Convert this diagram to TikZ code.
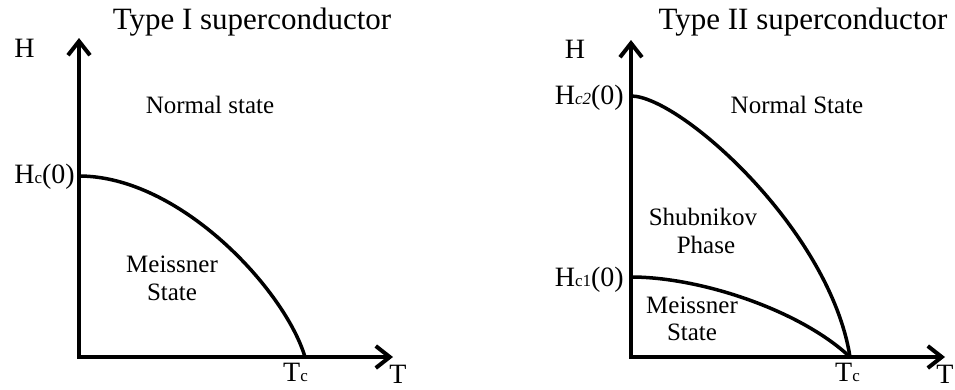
\documentclass[tikz,border=0pt]{standalone}
\usepackage{fontspec}
\setmainfont{Liberation Serif}
\usetikzlibrary{arrows.meta}
\newcommand{\subsm}[1]{{\fontsize{17}{17}\selectfont #1}}
\tikzset{
  axisline/.style={line width=4pt, line join=miter, {Straight Barb[length=14pt,width=22pt]}-{Straight Barb[length=14pt,width=22pt]}},
  phaseline/.style={line width=3.5pt},
  titletext/.style={font=\fontsize{31}{31}\selectfont, anchor=base, inner sep=0pt},
  lbl/.style={font=\fontsize{25}{25}\selectfont, anchor=base, inner sep=0pt},
  axlbl/.style={font=\fontsize{28}{28}\selectfont, anchor=base, inner sep=0pt},
}
\begin{document}
\begin{tikzpicture}[x=1pt,y=-1pt]
\useasboundingbox (0,0) rectangle (955,389);
% ---------- Type I ----------
\coordinate (Ltop) at (79,38);
\coordinate (Lo) at (79,357);
\coordinate (Lright) at (393,357);
\coordinate (LHc) at (79,176);
\coordinate (LTc) at (305,357);
\draw[axisline] (Ltop) -- (Lo) -- (Lright);
\draw[phaseline] (LHc) .. controls (180,176) and (285,290) .. (LTc);
\node[titletext] (title1) at (252,29) {Type I superconductor};
\node[axlbl] (H1) at (24.5,57) {H};
\node[lbl] (normal1) at (210,113) {Normal state};
\node[axlbl, anchor=base east] (hc1) at (75,183) {H\subsm{c}(0)};
\node[lbl] (meis1a) at (172,272) {Meissner};
\node[lbl] (meis1b) at (172,300) {State};
\node[axlbl, anchor=base west] (tc1) at (283,381) {T\subsm{c}};
\node[axlbl] (T1) at (398,383) {T};
% ---------- Type II ----------
\coordinate (Rtop) at (631,40);
\coordinate (Ro) at (631,357);
\coordinate (Rright) at (945,357);
\coordinate (RHc2) at (631,96);
\coordinate (RHc1) at (631,277);
\coordinate (RTc) at (850,357);
\draw[axisline] (Rtop) -- (Ro) -- (Rright);
\draw[phaseline] (RHc2) .. controls (680,96) and (830,230) .. (RTc);
\draw[phaseline] (RHc1) .. controls (700,277) and (800,310) .. (RTc);
\node[titletext] (title2) at (803,29) {Type II superconductor};
\node[axlbl] (H2) at (575,58) {H};
\node[axlbl, anchor=base east] (hc2) at (624,104) {H\subsm{\itshape c2}(0)};
\node[lbl] (normal2) at (797,113) {Normal State};
\node[lbl] (shub) at (703,225) {Shubnikov};
\node[lbl] (phase) at (706,253) {Phase};
\node[axlbl, anchor=base east] (hc1r) at (624,286) {H\subsm{c1}(0)};
\node[lbl] (meis2a) at (692,313) {Meissner};
\node[lbl] (meis2b) at (692,340) {State};
\node[axlbl, anchor=base west] (tc2) at (835,381) {T\subsm{c}};
\node[axlbl] (T2) at (945,383) {T};
\end{tikzpicture}
\end{document}
